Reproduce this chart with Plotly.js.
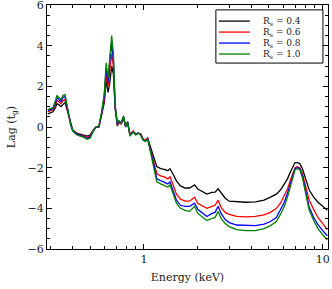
<!DOCTYPE html>
<html><head><meta charset="utf-8">
<script src="https://cdn.plot.ly/plotly-3.0.1.min.js"></script>
<style>html,body{margin:0;padding:0;background:#fff}#c{width:332px;height:289px}</style>
</head><body><div id="c"></div>
<script>
const energy = [0.29,0.30,0.31,0.32,0.326,0.334,0.344,0.352,0.362,0.37,0.38,0.39,0.40,0.42,0.44,0.46,0.48,0.50,0.52,0.54,0.56,0.58,0.60,0.615,0.63,0.645,0.66,0.675,0.69,0.71,0.725,0.745,0.77,0.79,0.81,0.835,0.87,0.90,0.93,0.96,0.99,1.02,1.05,1.08,1.12,1.18,1.24,1.30,1.36,1.40,1.45,1.52,1.60,1.70,1.80,1.92,2.0,2.1,2.25,2.4,2.5,2.6,2.7,2.85,3.0,3.3,3.7,4.2,4.7,5.1,5.5,5.8,6.1,6.35,6.6,6.8,7.0,7.2,7.45,7.7,8.0,8.4,8.9,9.4,10.0,10.6];
const lagR04 = [0.65,0.7,0.75,0.95,1.15,1.1,1.0,1.1,1.2,0.9,0.5,0.1,-0.15,-0.3,-0.35,-0.4,-0.45,-0.4,-0.15,0.0,0.0,0.6,1.2,2.3,1.7,2.2,3.0,2.6,0.9,0.05,0.25,0.15,0.4,0.05,0.25,-0.35,-0.2,-0.35,-0.3,-0.35,-0.6,-0.65,-0.55,-0.9,-1.3,-1.95,-2.05,-2.08,-2.15,-2.05,-2.3,-2.65,-2.9,-3.0,-3.0,-2.85,-3.05,-3.15,-3.3,-3.22,-3.2,-3.04,-3.25,-3.5,-3.65,-3.68,-3.7,-3.68,-3.6,-3.45,-3.3,-3.1,-2.8,-2.55,-2.2,-1.95,-1.75,-1.75,-1.8,-2.05,-2.5,-3.1,-3.45,-3.7,-3.9,-4.1];
const lagR06 = [0.75,0.8,0.85,1.1,1.3,1.25,1.15,1.3,1.35,1.0,0.55,0.1,-0.15,-0.32,-0.4,-0.45,-0.5,-0.45,-0.18,0.0,0.02,0.65,1.35,2.6,2.0,2.8,3.6,3.0,1.0,0.1,0.25,0.15,0.45,0.0,0.25,-0.4,-0.2,-0.35,-0.3,-0.35,-0.6,-0.65,-0.55,-1.0,-1.5,-2.3,-2.4,-2.45,-2.55,-2.45,-2.8,-3.3,-3.55,-3.65,-3.65,-3.45,-3.75,-3.85,-4.0,-3.9,-3.85,-3.6,-3.95,-4.2,-4.3,-4.4,-4.42,-4.4,-4.32,-4.2,-4.0,-3.75,-3.4,-3.05,-2.6,-2.25,-2.0,-1.95,-2.0,-2.3,-2.85,-3.6,-4.05,-4.45,-4.75,-5.05];
const lagR08 = [0.8,0.85,0.9,1.2,1.45,1.35,1.25,1.45,1.5,1.1,0.55,0.1,-0.2,-0.35,-0.42,-0.48,-0.55,-0.5,-0.2,0.0,0.03,0.7,1.5,2.9,2.2,3.3,4.1,3.3,1.05,0.15,0.3,0.2,0.5,0.0,0.25,-0.4,-0.25,-0.35,-0.3,-0.4,-0.65,-0.7,-0.6,-1.05,-1.6,-2.55,-2.65,-2.72,-2.8,-2.7,-3.05,-3.6,-3.85,-3.9,-3.9,-3.75,-4.05,-4.2,-4.4,-4.25,-4.2,-3.9,-4.25,-4.55,-4.7,-4.82,-4.85,-4.85,-4.78,-4.65,-4.45,-4.05,-3.7,-3.25,-2.8,-2.4,-2.05,-2.0,-2.05,-2.4,-3.05,-3.95,-4.45,-4.8,-5.1,-5.35];
const lagR10 = [0.85,0.9,0.95,1.3,1.55,1.45,1.35,1.55,1.6,1.15,0.6,0.1,-0.2,-0.38,-0.45,-0.5,-0.6,-0.55,-0.22,0.0,0.05,0.75,1.65,3.15,2.4,3.6,4.5,3.6,1.1,0.2,0.3,0.2,0.55,0.0,0.25,-0.45,-0.25,-0.4,-0.3,-0.4,-0.65,-0.7,-0.6,-1.1,-1.7,-2.7,-2.8,-2.88,-2.95,-2.85,-3.2,-3.75,-4.0,-4.1,-4.15,-3.9,-4.25,-4.4,-4.6,-4.5,-4.45,-4.15,-4.5,-4.75,-4.9,-5.05,-5.1,-5.1,-5.0,-4.85,-4.65,-4.3,-3.9,-3.45,-2.95,-2.5,-2.1,-2.05,-2.1,-2.5,-3.15,-4.1,-4.6,-5.0,-5.3,-5.55];
const seriesLabels = ['R<sub>s</sub> = 0.4','R<sub>s</sub> = 0.6','R<sub>s</sub> = 0.8','R<sub>s</sub> = 1.0'];
const seriesColors = ['#000000','#ff0000','#0000ff','#008000'];
const xTickVals = [1,10];
const xTickText = ['1','10'];
const xMinorVals = [0.3,0.4,0.5,0.6,0.7,0.8,0.9,2,3,4,5,6,7,8,9];
const yTickVals = [-6,-4,-2,0,2,4,6];

const series = [lagR04, lagR06, lagR08, lagR10];
const font = 'DejaVu Serif';
const txt = '#222';
const traces = series.map((y,i)=>({
  x: energy, y: y, type:'scatter', mode:'lines', name: seriesLabels[i],
  line:{color: seriesColors[i], width:1.3}, showlegend:false
}));

// manual legend (paper coordinates)
const shapes = [{type:'rect', xref:'paper', yref:'paper', x0:0.601, x1:0.982, y0:0.762, y1:0.980,
  line:{color:'#000', width:1}, fillcolor:'#fff', layer:'above'}];
const annotations = [];
const rowY = [0.934,0.889,0.844,0.799];
seriesLabels.forEach((t,i)=>{
  shapes.push({type:'line', xref:'paper', yref:'paper', x0:0.612, x1:0.722, y0:rowY[i], y1:rowY[i],
    line:{color:seriesColors[i], width:1.3}, layer:'above'});
  annotations.push({xref:'paper', yref:'paper', x:0.76, y:rowY[i], xanchor:'left', yanchor:'middle',
    text:t, showarrow:false, font:{family:font, size:9, color:txt}});
});

const layout = {
  width:332, height:289,
  margin:{l:47, r:4, t:5, b:40},
  paper_bgcolor:'#fff', plot_bgcolor:'#fff',
  font:{family:font, size:11, color:txt},
  showlegend:false,
  xaxis:{type:'log', range:[Math.log10(0.287), Math.log10(10.7)],
    tickmode:'array', tickvals:xTickVals, ticktext:xTickText,
    ticks:'inside', ticklen:5, tickwidth:1, tickcolor:'#000', ticklabeloverflow:'allow',
    minor:{tickmode:'array', tickvals:xMinorVals, ticks:'inside', ticklen:3, tickwidth:1, tickcolor:'#000'},
    showline:true, linecolor:'#000', linewidth:1, mirror:'ticks', showgrid:false, zeroline:false,
    title:{text:'Energy (keV)', font:{family:font, size:11, color:txt}, standoff:8},
    tickfont:{family:font, size:11, color:txt}},
  yaxis:{range:[-6.0, 6.0], tickmode:'array', tickvals:yTickVals,
    ticks:'inside', ticklen:5, tickwidth:1, tickcolor:'#000', ticklabeloverflow:'allow',
    minor:{dtick:0.5, tick0:0, ticks:'inside', ticklen:3, tickwidth:1, tickcolor:'#000'},
    showline:true, linecolor:'#000', linewidth:1, mirror:'ticks', showgrid:false, zeroline:false,
    title:{text:'Lag (t<sub>g</sub>)', font:{family:font, size:11, color:txt}},
    tickfont:{family:font, size:11, color:txt}},
  shapes: shapes, annotations: annotations
};
Plotly.newPlot('c', traces, layout, {staticPlot:true, displayModeBar:false});
</script></body></html>
